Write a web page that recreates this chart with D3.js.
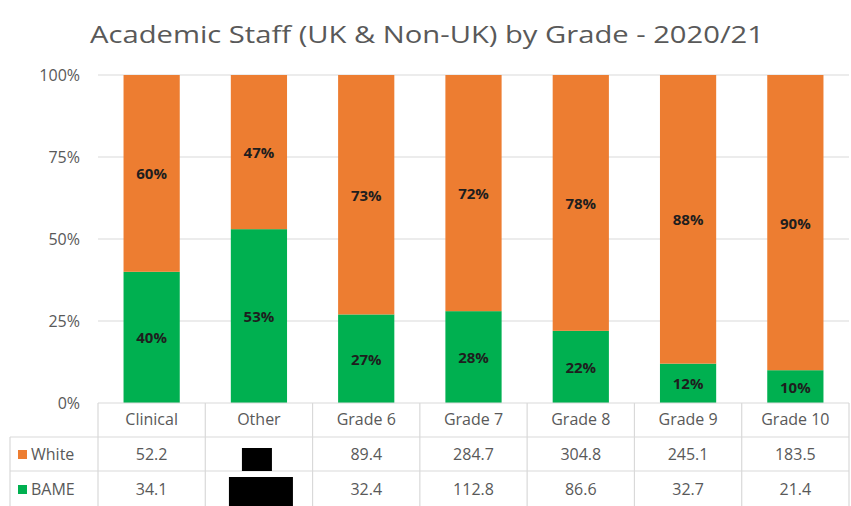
<!DOCTYPE html>
<html>
<head>
<meta charset="utf-8">
<script src="https://cdn.jsdelivr.net/npm/d3@7/dist/d3.min.js"></script>
<style>
  html, body { margin: 0; padding: 0; background: #fff; }
  svg { display: block; font-family: "Open Sans", "DejaVu Sans", sans-serif; }
</style>
</head>
<body>
<svg id="chart" width="851" height="506"></svg>
<script>
// Academic staff split by ethnicity per grade, 2020/21
const categories = ["Clinical", "Other", "Grade 6", "Grade 7", "Grade 8", "Grade 9", "Grade 10"];
const whitePct = [60, 47, 73, 72, 78, 88, 90];
const bamePct = [40, 53, 27, 28, 22, 12, 10];
// FTE counts shown in the data table (Other is withheld)
const whiteCount = [52.2, null, 89.4, 284.7, 304.8, 245.1, 183.5];
const bameCount = [34.1, null, 32.4, 112.8, 86.6, 32.7, 21.4];
const yTicks = [0, 25, 50, 75, 100];
const seriesNames = ["White", "BAME"];

const colors = { White: "#ED7D31", BAME: "#00B050" };
const textGray = "#595959";
const gridGray = "#d9d9d9";

const svg = d3.select("#chart");

const plot = { left: 98, right: 849, top: 75, bottom: 403 };
const x = d3.scaleBand()
  .domain(categories)
  .range([plot.left, plot.right])
  .paddingInner(0.476)
  .paddingOuter(0.238);
const y = d3.scaleLinear().domain([0, 100]).range([plot.bottom, plot.top]);

// Title
svg.append("text")
  .attr("x", 427).attr("y", 43)
  .attr("text-anchor", "middle")
  .attr("font-size", 24)
  .attr("fill", textGray)
  .attr("textLength", 674)
  .attr("lengthAdjust", "spacingAndGlyphs")
  .text("Academic Staff (UK & Non-UK) by Grade - 2020/21");

// Gridlines
svg.append("g").selectAll("line")
  .data(yTicks.filter(t => t > 0))
  .join("line")
  .attr("x1", plot.left).attr("x2", plot.right)
  .attr("y1", d => y(d)).attr("y2", d => y(d))
  .attr("stroke", gridGray).attr("stroke-width", 1.2);

// Y axis labels
const yAxis = d3.axisLeft(y).tickValues(yTicks).tickFormat(d => d + "%").tickSize(0).tickPadding(0);
const yg = svg.append("g").attr("transform", `translate(80,0)`).call(yAxis);
yg.select(".domain").remove();
yg.selectAll("text")
  .attr("font-size", 16)
  .attr("fill", textGray)
  .attr("font-family", "'Open Sans', sans-serif");

// Stacked bars (BAME at bottom, White on top)
const rows = categories.map((c, i) => ({ cat: c, White: whitePct[i], BAME: bamePct[i] }));
const stack = d3.stack().keys(["BAME", "White"])(rows);

const layers = svg.append("g").selectAll("g")
  .data(stack)
  .join("g")
  .attr("fill", d => colors[d.key]);

layers.selectAll("rect")
  .data(d => d)
  .join("rect")
  .attr("x", d => x(d.data.cat))
  .attr("width", x.bandwidth())
  .attr("y", d => y(d[1]))
  .attr("height", d => y(d[0]) - y(d[1]));

layers.selectAll("text")
  .data(d => d.map(v => ({ v, key: d.key })))
  .join("text")
  .attr("x", d => x(d.v.data.cat) + x.bandwidth() / 2)
  .attr("y", d => (y(d.v[0]) + y(d.v[1])) / 2 + 6)
  .attr("text-anchor", "middle")
  .attr("font-size", 15)
  .attr("font-weight", "bold")
  .attr("fill", "#1e1e1e")
  .text(d => d.v.data[d.key] + "%");

// Data table
const tbl = { left: 10, headerTop: 403, rowTops: [437, 471], bottom: 507 };
const step = x.step();
const colEdges = d3.range(categories.length + 1).map(i => plot.left + i * step);
const tg = svg.append("g").attr("stroke", gridGray).attr("stroke-width", 1.2);

// horizontal lines
tg.append("line").attr("x1", plot.left).attr("x2", colEdges[colEdges.length - 1])
  .attr("y1", tbl.headerTop).attr("y2", tbl.headerTop);
tbl.rowTops.forEach(r => {
  tg.append("line").attr("x1", tbl.left).attr("x2", colEdges[colEdges.length - 1])
    .attr("y1", r).attr("y2", r);
});
// vertical lines
tg.append("line").attr("x1", tbl.left).attr("x2", tbl.left)
  .attr("y1", tbl.rowTops[0]).attr("y2", tbl.bottom);
colEdges.forEach(e => {
  tg.append("line").attr("x1", e).attr("x2", e)
    .attr("y1", tbl.headerTop).attr("y2", tbl.bottom);
});

// Category header
svg.append("g").selectAll("text")
  .data(categories)
  .join("text")
  .attr("x", d => x(d) + x.bandwidth() / 2)
  .attr("y", 425)
  .attr("text-anchor", "middle")
  .attr("font-size", 16)
  .attr("fill", textGray)
  .text(d => d);

// Series rows
const seriesData = [whiteCount, bameCount];
seriesNames.forEach((name, si) => {
  const top = tbl.rowTops[si];
  const rowH = (si === 0 ? tbl.rowTops[1] : tbl.bottom) - top;
  const mid = top + rowH / 2;
  svg.append("rect")
    .attr("x", 18).attr("y", mid - 4)
    .attr("width", 9).attr("height", 9)
    .attr("fill", colors[name]);
  svg.append("text")
    .attr("x", 31).attr("y", mid + 6)
    .attr("font-size", 16)
    .attr("fill", textGray)
    .text(name);
  svg.append("g").selectAll("text")
    .data(categories.map((c, i) => ({ c, v: seriesData[si][i] })).filter(d => d.v !== null))
    .join("text")
    .attr("x", d => x(d.c) + x.bandwidth() / 2)
    .attr("y", mid + 6)
    .attr("text-anchor", "middle")
    .attr("font-size", 16)
    .attr("fill", textGray)
    .text(d => d.v.toFixed(1));
});

// Withheld values in the Other column
const otherX = x("Other") + x.bandwidth() / 2;
svg.append("rect")
  .attr("x", otherX - 17).attr("y", 448)
  .attr("width", 30).attr("height", 23)
  .attr("fill", "#000");
svg.append("rect")
  .attr("x", otherX - 30).attr("y", 477)
  .attr("width", 64).attr("height", 30)
  .attr("fill", "#000");
</script>
</body>
</html>
